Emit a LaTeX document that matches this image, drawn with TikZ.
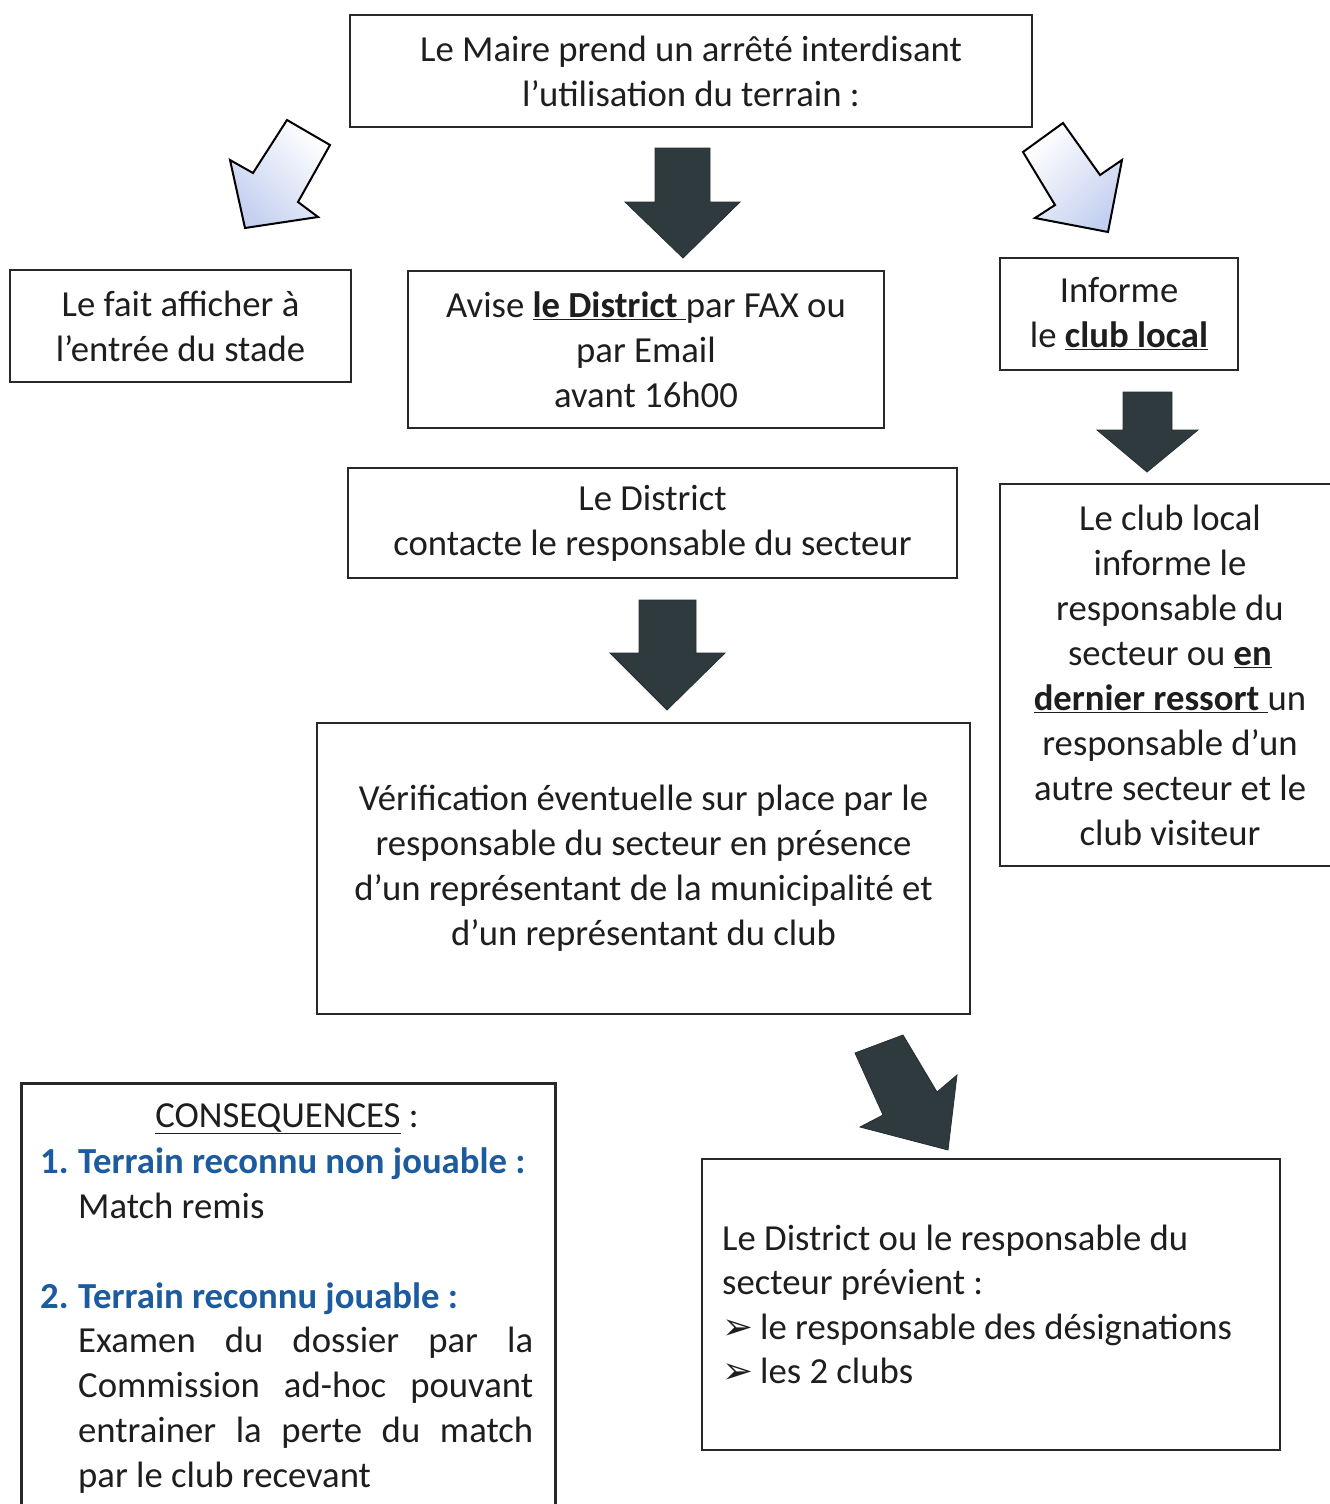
\documentclass[tikz,border=0pt]{standalone}
\usepackage{fontspec}
\setmainfont{Carlito}
\newfontfamily\dejavu{DejaVu Sans}
\definecolor{ink}{RGB}{30,30,30}
\definecolor{frame}{RGB}{40,40,40}
\definecolor{darkarrow}{RGB}{47,58,63}
\definecolor{lightarrow}{RGB}{196,208,240}
\definecolor{bluetxt}{RGB}{28,92,158}
\newcommand\bigfs{\fontsize{36.7}{45}\selectfont}
\newcommand\bul{\makebox[38pt][l]{\dejavu\fontsize{37}{45}\selectfont ➢}}
\tikzset{
  box/.style={draw=frame, line width=2.6pt, inner sep=0pt},
  txt/.style={font=\bigfs, text=ink, inner sep=0pt, align=center},
  ltxt/.style={font=\bigfs, text=ink, inner sep=0pt, anchor=base west},
  btxt/.style={ltxt, text=bluetxt, font=\bigfs\bfseries},
  darr/.style={fill=darkarrow, draw=darkarrow!80!black, line width=0.8pt, line join=miter},
  larr/.style={draw=black, line width=2pt, line join=miter, top color=white, bottom color=lightarrow},
}
\begin{document}
\begin{tikzpicture}[x=1pt,y=-1pt]
\fill[white] (0,0) rectangle (1330,1504);
\useasboundingbox (0,0) rectangle (1330,1504);

% boxes with centred text
\node[box, txt, minimum width=682pt, minimum height=112pt] (maire) at (691,71)
  {Le Maire prend un arrêté interdisant\\l’utilisation du terrain :};
\node[box, txt, minimum width=341pt, minimum height=112pt] (affiche) at (180.5,326)
  {Le fait afficher à\\l’entrée du stade};
\node[box, txt, minimum width=476pt, minimum height=157pt] (avise) at (646,349.5)
  {Avise \underline{\textbf{le District} }par FAX ou\\par Email\\avant 16h00};
\node[box, txt, minimum width=238pt, minimum height=112pt] (informe) at (1119,314)
  {Informe\\le \underline{\textbf{club local}}};
\node[box, txt, minimum width=609pt, minimum height=110pt] (district) at (652.5,523)
  {Le District\\contacte le responsable du secteur};
\node[box, txt, minimum width=340pt, minimum height=382pt] (clublocal) at (1170,675)
  {Le club local\\informe le\\responsable du\\secteur ou \underline{\textbf{en}}\\\underline{\textbf{dernier ressort} }un\\responsable d’un\\autre secteur et le\\club visiteur};
\node[box, txt, minimum width=653pt, minimum height=291pt] (verif) at (643.5,868.5)
  {Vérification éventuelle sur place par le\\responsable du secteur en présence\\d’un représentant de la municipalité et\\d’un représentant du club};

% consequences box
\node[box, minimum width=534pt, minimum height=440pt, anchor=north west] (cons) at (20,1082) {};
\node[ltxt, anchor=base] (consT) at (287,1127) {\underline{CONSEQUENCES} :};
\node[btxt] (c1) at (40,1173) {\makebox[38pt][l]{1.}Terrain reconnu non jouable :};
\node[ltxt] (c1b) at (78,1218) {Match remis};
\node[btxt] (c2) at (40,1308) {\makebox[38pt][l]{2.}Terrain reconnu jouable :};
\node[ltxt] (c2a) at (78,1352) {\makebox[455pt][s]{Examen du dossier par la}};
\node[ltxt] (c2b) at (78,1397) {\makebox[455pt][s]{Commission ad-hoc pouvant}};
\node[ltxt] (c2c) at (78,1442) {\makebox[455pt][s]{entrainer la perte du match}};
\node[ltxt] (c2d) at (78,1487) {par le club recevant};

% previent box
\node[box, minimum width=578pt, minimum height=291pt] (prev) at (991,1304.5) {};
\node[ltxt] (p1) at (722,1250) {Le District ou le responsable du};
\node[ltxt] (p2) at (722,1294) {secteur prévient :};
\node[ltxt] (p3) at (722,1339) {\bul le responsable des désignations};
\node[ltxt] (p4) at (722,1383) {\bul les 2 clubs};

% light block arrows
\path[larr, shading angle=-45] (287,120) -- (330,145) -- (298,202) -- (318,217) -- (245,228) -- (230,160) -- (253,173) -- cycle;
\path[larr, shading angle=45] (1023,152) -- (1063,123) -- (1100,175) -- (1122,160) -- (1108,232) -- (1035,218) -- (1055,205) -- cycle;

% dark block arrows
\path[darr] (655,148) -- (710,148) -- (710,202) -- (740,202) -- (683,258) -- (625,202) -- (655,202) -- cycle;
\path[darr] (639,600) -- (696,600) -- (696,653) -- (725,653) -- (667,710) -- (610,653) -- (639,653) -- cycle;
\path[darr] (1123,392) -- (1172,392) -- (1172,430) -- (1198,430) -- (1147,472) -- (1097,430) -- (1123,430) -- cycle;
\path[darr] (855,1053) -- (903,1035) -- (937,1092) -- (957,1075) -- (948,1150) -- (860,1127) -- (883,1115) -- cycle;
\end{tikzpicture}
\end{document}
